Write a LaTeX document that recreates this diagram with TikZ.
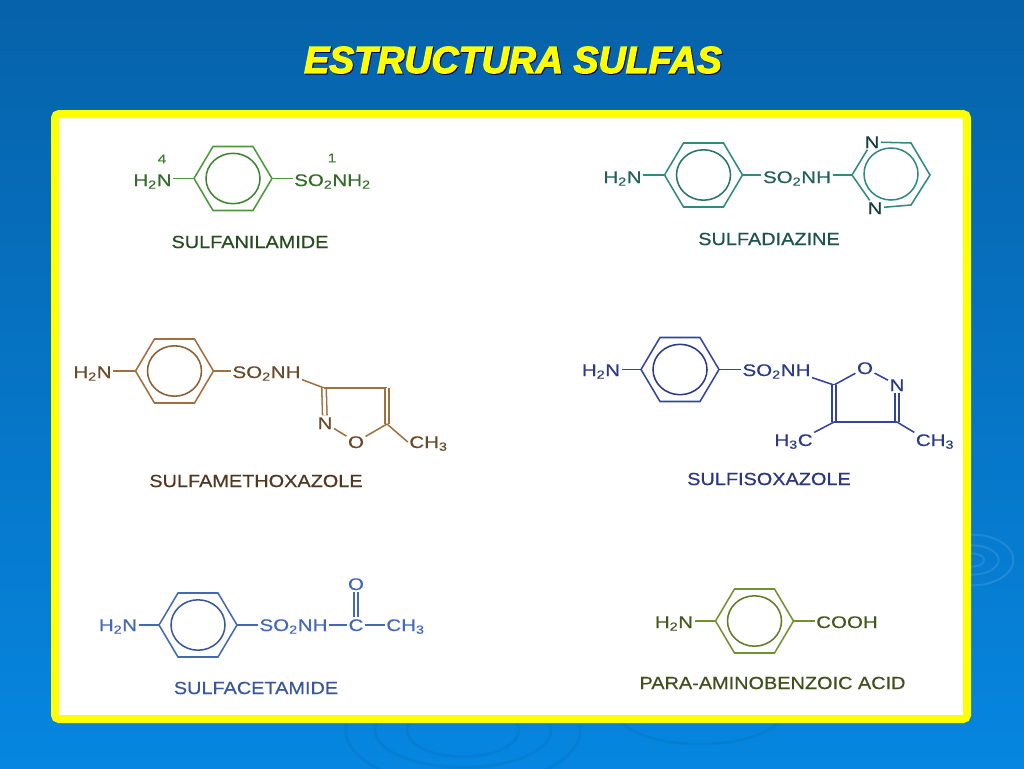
\documentclass[tikz,border=0pt]{standalone}
\usepackage{fontspec}
\usepackage{tikz}
\usetikzlibrary{calc}
\setmainfont{Liberation Sans}
\newfontfamily\atomfont[FakeStretch=1.22, FakeBold=0.35]{Liberation Sans}
\newfontfamily\namefont[FakeStretch=1.13, FakeBold=0.45]{Liberation Sans}
\newfontfamily\titlefont[FakeBold=3.4]{Liberation Sans}

\definecolor{greenA}{HTML}{4A9A3C}
\definecolor{tealA}{HTML}{2F8A80}
\definecolor{brownA}{HTML}{A0703F}
\definecolor{blueA}{HTML}{34449C}
\definecolor{blueB}{HTML}{4468B4}
\definecolor{oliveA}{HTML}{72922F}
\definecolor{titleyellow}{HTML}{FFFF00}

% benzene ring: name, x, y, colour
\newcommand{\benzene}[4]{
   \coordinate (#1w) at (#2-39,#3);
   \coordinate (#1e) at (#2+39,#3);
   \draw[#4] (#1w) -- (#2-20,#3-32) -- (#2+20,#3-32) -- (#1e) -- (#2+20,#3+32) -- (#2-20,#3+32) -- cycle;
   \draw[#4!85!black] (#2,#3) ellipse [x radius=20.25pt, y radius=18.9pt];
}

\begin{document}
\begin{tikzpicture}[x=0.75pt, y=-0.75pt, line width=1.15pt,
                    atom/.style={inner sep=0pt, outer sep=1.2pt, text height=9pt, text depth=0pt, font=\atomfont\fontsize{12.6}{14}\selectfont},
                    small atom/.style={inner sep=0pt, font=\atomfont\fontsize{9.5}{11}\selectfont},
                    name label/.style={inner sep=0pt, font=\namefont\fontsize{13.2}{15}\selectfont},
                    double bond/.style={double, double distance=2.2pt},
                    ripple light/.style={draw=white, opacity=0.1, line width=1.5pt},
                    ripple dark/.style={draw=black, opacity=0.05, line width=2pt}]

   \useasboundingbox (0,0) rectangle (1024,768);
   \shade[top color={rgb,255:red,6;green,98;blue,170}, bottom color={rgb,255:red,6;green,134;blue,224}] (0,0) rectangle (1024,768);

   % ripples
   \draw[ripple light] (972,560) ellipse [x radius=9pt, y radius=5pt];
   \draw[ripple light] (972,560) ellipse [x radius=20pt, y radius=11pt];
   \draw[ripple light] (972,560) ellipse [x radius=31pt, y radius=19pt];
   \draw[ripple dark] (463,730) ellipse [x radius=42pt, y radius=20pt];
   \draw[ripple dark] (463,730) ellipse [x radius=66pt, y radius=28pt];
   \draw[ripple dark] (463,730) ellipse [x radius=88pt, y radius=42pt];
   \draw[ripple dark] (700,712) ellipse [x radius=62pt, y radius=24pt];

   % title
   \node[inner sep=0pt, text=blue!45!black, font=\titlefont\bfseries\itshape\fontsize{28.2}{32}\selectfont] (titleshadow) at (514,61) {ESTRUCTURA SULFAS};
   \node[inner sep=0pt, text=titleyellow, font=\titlefont\bfseries\itshape\fontsize{28.2}{32}\selectfont] (title) at (513,60) {ESTRUCTURA SULFAS};

   % frame
   \draw[draw=titleyellow, fill=white, line width=6pt, rounded corners=3pt] (55,114) rectangle (967,719);

   % sulfanilamide
   \benzene{a}{233}{178.5}{greenA}
   \node[atom, text=greenA!70!black] (aamine) at (152.5,180) {H\textsubscript{2}N};
   \node[atom, text=greenA!70!black] (asulf) at (332.5,180) {SO\textsubscript{2}NH\textsubscript{2}};
   \node[small atom, text=greenA!80!black] (afour) at (162,159) {4};
   \node[small atom, text=greenA!80!black] (aone) at (332,158) {1};
   \node[name label, text=greenA!50!black] (aname) at (250,242) {SULFANILAMIDE};
   \draw[greenA] (aamine.east |- aw) -- (aw);
   \draw[greenA] (ae) -- (asulf.west |- ae);

   % sulfadiazine
   \benzene{b}{703.5}{175}{tealA}
   \node[atom, text=tealA!70!black] (bamine) at (622.5,177) {H\textsubscript{2}N};
   \node[atom, text=tealA!70!black] (bsulf) at (797,177) {SO\textsubscript{2}NH};
   \node[name label, text=tealA!60!black] (bname) at (769,239) {SULFADIAZINE};
   \node[atom, text=tealA!45!black] (bntop) at (872,142) {N};
   \node[atom, text=tealA!45!black] (bnbot) at (875,208) {N};
   \coordinate (bcl) at (852,175);
   \coordinate (bctr) at (911,143);
   \coordinate (bcr) at (930,175);
   \coordinate (bcbr) at (911,205);
   \draw[tealA] (bamine.east |- bw) -- (bw);
   \draw[tealA] (be) -- (bsulf.west |- be);
   \draw[tealA] (bsulf.east |- bcl) -- (bcl);
   \draw[tealA] (bcl) -- (bntop);
   \draw[tealA] (bntop) -- (bctr) -- (bcr) -- (bcbr) -- (bnbot);
   \draw[tealA] (bnbot) -- (bcl);
   \draw[tealA] (891,174) ellipse [x radius=20.25pt, y radius=19.5pt];

   % sulfamethoxazole
   \benzene{c}{174.5}{371}{brownA}
   \node[atom, text=brownA!65!black] (camine) at (92.5,372) {H\textsubscript{2}N};
   \node[atom, text=brownA!65!black] (csulf) at (266.5,372) {SO\textsubscript{2}NH};
   \node[atom, text=brownA!65!black] (cn) at (325,423) {N};
   \node[atom, text=brownA!65!black] (co) at (356,442) {O};
   \node[atom, text=brownA!65!black] (cme) at (428.5,442) {CH\textsubscript{3}};
   \node[name label, text=brownA!50!black] (cname) at (256,481) {SULFAMETHOXAZOLE};
   \coordinate (cca) at (324,388);
   \coordinate (ccb) at (387,388);
   \coordinate (ccc) at (387,424);
   \draw[brownA] (camine.east |- cw) -- (cw);
   \draw[brownA] (ce) -- (csulf.west |- ce);
   \draw[brownA] (csulf.south east) -- (cca);
   \draw[brownA, double bond] (cca) -- (cn);
   \draw[brownA, line width=1.5pt] (cca) -- (ccb);
   \draw[brownA, double bond] (ccb) -- (ccc);
   \draw[brownA] (cn) -- (co);
   \draw[brownA] (co) -- (ccc);
   \draw[brownA] (ccc) -- (cme.west);

   % sulfisoxazole
   \benzene{d}{680}{369.5}{blueA}
   \node[atom, text=blueA!85!black] (damine) at (601,370) {H\textsubscript{2}N};
   \node[atom, text=blueA!85!black] (dsulf) at (776.5,370) {SO\textsubscript{2}NH};
   \node[atom, text=blueA!85!black] (do) at (865,368) {O};
   \node[atom, text=blueA!85!black] (dn) at (897,385) {N};
   \node[atom, text=blueA!85!black] (dmea) at (793.5,440) {H\textsubscript{3}C};
   \node[atom, text=blueA!85!black] (dmeb) at (935,440) {CH\textsubscript{3}};
   \node[name label, text=blueA!80!black] (dname) at (769,479) {SULFISOXAZOLE};
   \coordinate (dca) at (834,385);
   \coordinate (dcb) at (834,422);
   \coordinate (dcc) at (897,422);
   \draw[blueA] (damine.east |- dw) -- (dw);
   \draw[blueA] (de) -- (dsulf.west |- de);
   \draw[blueA] (dsulf.south east) -- (dca);
   \draw[blueA] (dca) -- (do);
   \draw[blueA] (do) -- (dn);
   \draw[blueA, double bond] (dn) -- (dcc);
   \draw[blueA, double bond] (dca) -- (dcb);
   \draw[blueA, line width=1.5pt] (dcb) -- (dcc);
   \draw[blueA] (dcb) -- (dmea.north east);
   \draw[blueA] (dcc) -- (dmeb.north west);

   % sulfacetamide
   \benzene{e}{198}{625}{blueB}
   \node[atom, text=blueB] (eamine) at (118,625) {H\textsubscript{2}N};
   \node[atom, text=blueB] (esulf) at (293.5,625) {SO\textsubscript{2}NH};
   \node[atom, text=blueB] (ec) at (356,625) {C};
   \node[atom, text=blueB] (eo) at (356,584) {O};
   \node[atom, text=blueB] (eme) at (405.5,625) {CH\textsubscript{3}};
   \node[name label, text=blueB!85!black] (ename) at (256,688) {SULFACETAMIDE};
   \draw[blueB] (eamine.east |- ew) -- (ew);
   \draw[blueB] (ee) -- (esulf.west |- ee);
   \draw[blueB] (esulf.east) -- (ec.west);
   \draw[blueB] (ec.east) -- (eme.west);
   \draw[blueB, double bond] (ec) -- (eo);

   % para-aminobenzoic acid
   \benzene{f}{754.5}{621}{oliveA}
   \node[atom, text=oliveA!60!black] (famine) at (674,622) {H\textsubscript{2}N};
   \node[atom, text=oliveA!60!black] (facid) at (847,622) {COOH};
   \node[name label, text=oliveA!55!black] (fname) at (772.5,683) {PARA-AMINOBENZOIC ACID};
   \draw[oliveA] (famine.east |- fw) -- (fw);
   \draw[oliveA] (fe) -- (facid.west |- fe);

\end{tikzpicture}
\end{document}
